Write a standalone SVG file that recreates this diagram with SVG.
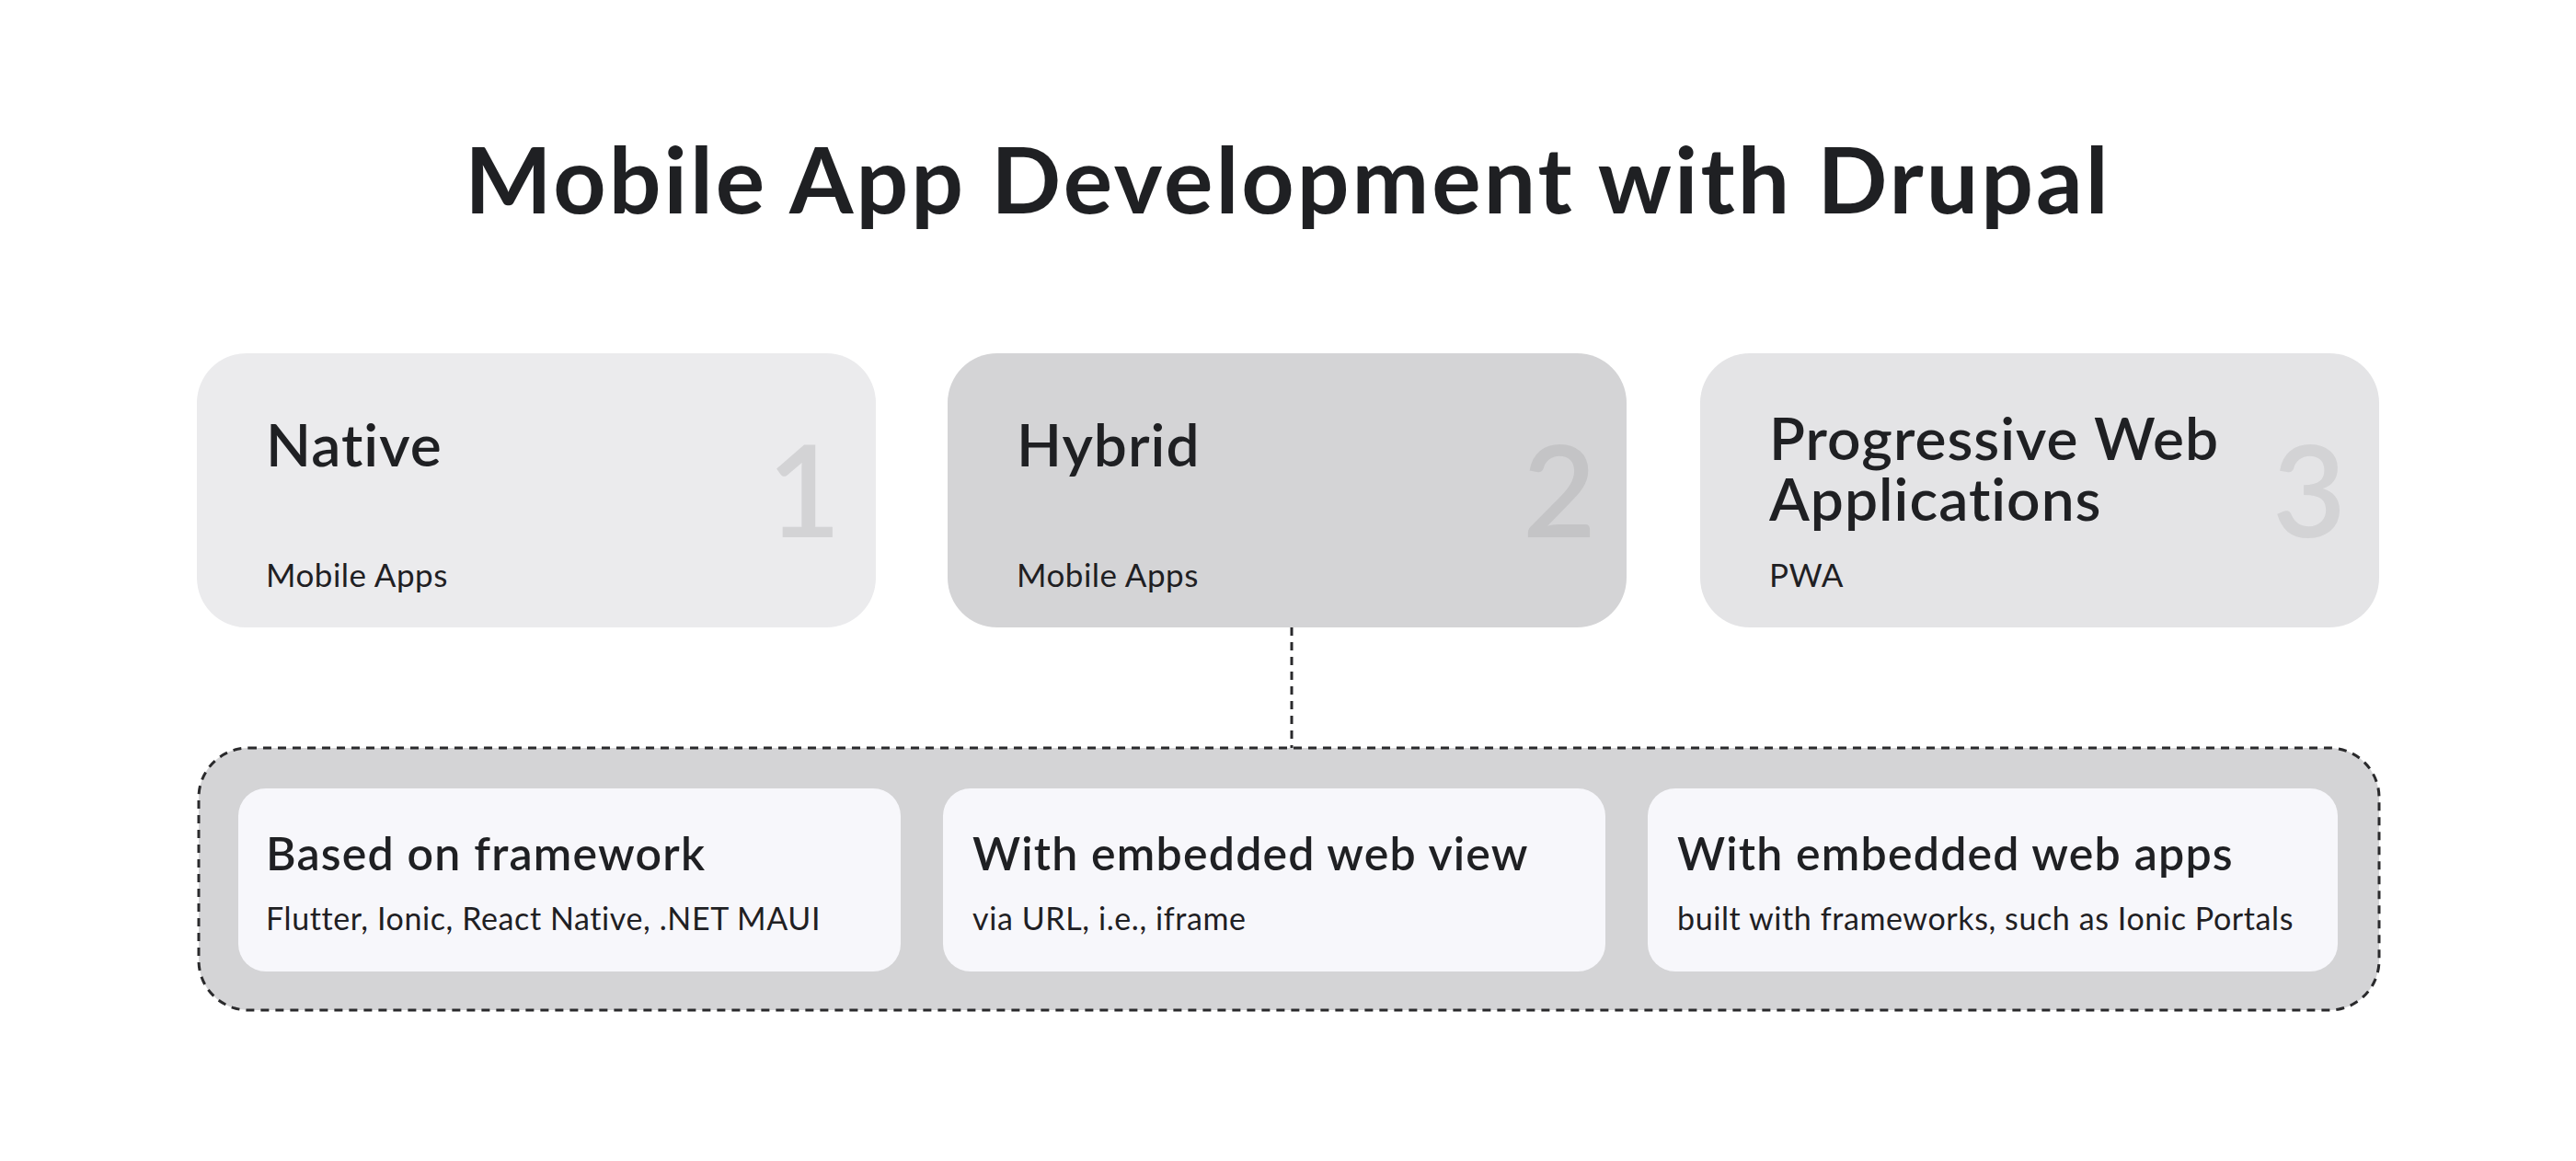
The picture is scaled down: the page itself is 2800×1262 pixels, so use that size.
<svg xmlns="http://www.w3.org/2000/svg" width="2800" height="1262" viewBox="0 0 2800 1262">
<style>
text{font-family:"Lato","Liberation Sans",sans-serif;fill:#1f2023}
.t{font-size:100px;font-weight:700;letter-spacing:3px}
.h{font-size:64px;font-weight:600;letter-spacing:1px}
.s{font-size:35px;letter-spacing:0.5px}
.n{font-size:138px;font-weight:600;fill:#d3d3d5;text-anchor:end}
.ih{font-size:50px;font-weight:600;letter-spacing:1.2px}
.is{font-size:34px;letter-spacing:0.6px}
.in{fill:#f7f7fb}
</style>
<rect width="2800" height="1262" fill="#ffffff"/>
<text class="t" x="1400" y="232" text-anchor="middle">Mobile App Development with Drupal</text>
<g id="connectors">
<line x1="1404" y1="682" x2="1404" y2="813" stroke="#2a2a2c" stroke-width="3" stroke-dasharray="9 7"/>
</g>
<g id="native">
<rect x="214" y="384" width="738" height="298" rx="54" fill="#ebebed"/>
<text class="n" x="914" y="584">1</text>
<text class="h" x="289" y="507">Native</text>
<text class="s" x="289" y="638">Mobile Apps</text>
</g>
<g id="hybrid">
<rect x="1030" y="384" width="738" height="298" rx="54" fill="#d4d4d6"/>
<text class="n" x="1735" y="584" style="fill:#c4c4c6">2</text>
<text class="h" x="1105" y="507">Hybrid</text>
<text class="s" x="1105" y="638">Mobile Apps</text>
</g>
<g id="pwa">
<rect x="1848" y="384" width="738" height="298" rx="54" fill="#e4e4e6"/>
<text class="n" x="2550" y="584">3</text>
<text class="h" x="1923" y="500">Progressive Web</text>
<text class="h" x="1923" y="566">Applications</text>
<text class="s" x="1923" y="638">PWA</text>
</g>
<g id="hybrid-types">
<rect x="216" y="813" width="2370" height="285" rx="54" fill="#d4d4d6" stroke="#2a2a2c" stroke-width="3" stroke-dasharray="9 7"/>
</g>
<g id="framework">
<rect class="in" x="259" y="857" width="720" height="199" rx="30"/>
<text class="ih" x="289" y="946">Based on framework</text>
<text class="is" x="289" y="1011">Flutter, Ionic, React Native, .NET MAUI</text>
</g>
<g id="webview">
<rect class="in" x="1025" y="857" width="720" height="199" rx="30"/>
<text class="ih" x="1057" y="946">With embedded web view</text>
<text class="is" x="1057" y="1011">via URL, i.e., iframe</text>
</g>
<g id="webapps">
<rect class="in" x="1791" y="857" width="750" height="199" rx="30"/>
<text class="ih" x="1823" y="946">With embedded web apps</text>
<text class="is" x="1823" y="1011">built with frameworks, such as Ionic Portals</text>
</g>
</svg>
